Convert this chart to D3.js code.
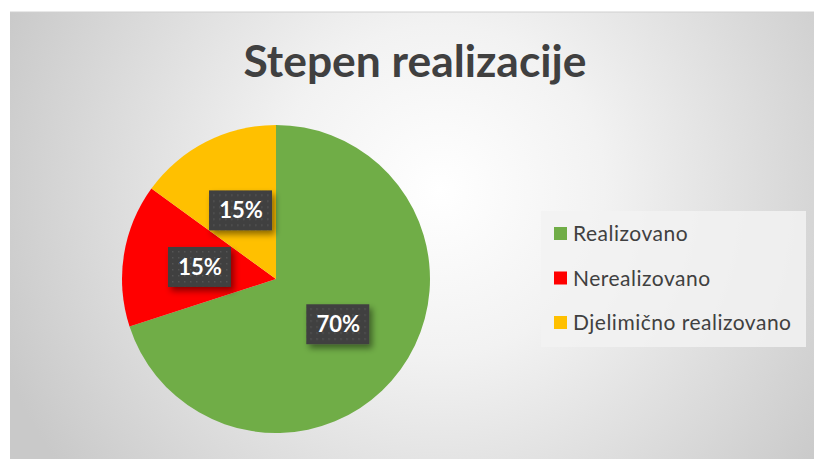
<!DOCTYPE html>
<html>
<head>
<meta charset="utf-8">
<script src="https://cdn.jsdelivr.net/npm/d3@7"></script>
<style>
  body { margin: 0; background: #fff; }
  svg { display: block; }
</style>
</head>
<body>
<div id="chart"></div>
<script>
// data
const categories = ["Realizovano", "Nerealizovano", "Djelimično realizovano"];
const values = [70, 15, 15];
const labels = ["70%", "15%", "15%"];
const colors = ["#70ad47", "#ff0000", "#ffc000"];

const W = 814, H = 459;

const svg = d3.select("#chart")
  .append("svg")
  .attr("width", W)
  .attr("height", H);

const defs = svg.append("defs");

// background gradient
const grad = defs.append("radialGradient")
  .attr("id", "bg")
  .attr("gradientUnits", "userSpaceOnUse")
  .attr("cx", 440).attr("cy", 190).attr("r", 470);
grad.append("stop").attr("offset", "0%").attr("stop-color", "#ffffff");
grad.append("stop").attr("offset", "35%").attr("stop-color", "#f2f2f2");
grad.append("stop").attr("offset", "100%").attr("stop-color", "#c9c9c9");

// drop shadow for data labels
const f = defs.append("filter").attr("id", "shadow")
  .attr("x", "-30%").attr("y", "-30%").attr("width", "170%").attr("height", "170%");
f.append("feDropShadow")
  .attr("dx", 3).attr("dy", 4)
  .attr("stdDeviation", 3)
  .attr("flood-color", "#000")
  .attr("flood-opacity", 0.45);

// dotted texture for labels
const pat = defs.append("pattern").attr("id", "dots")
  .attr("patternUnits", "userSpaceOnUse")
  .attr("width", 6).attr("height", 6);
pat.append("rect").attr("width", 6).attr("height", 6).attr("fill", "#404040");
pat.append("rect").attr("x", 2).attr("y", 2).attr("width", 1.5).attr("height", 1.5).attr("fill", "#555");

// chart area
svg.append("rect")
  .attr("x", 10).attr("y", 12)
  .attr("width", W - 10).attr("height", H - 12)
  .attr("fill", "url(#bg)");
svg.append("line")
  .attr("x1", 10).attr("x2", W)
  .attr("y1", 12).attr("y2", 12)
  .attr("stroke", "#d0d0d0");

// title
svg.append("text")
  .attr("x", 415)
  .attr("y", 77)
  .attr("text-anchor", "middle")
  .attr("font-family", "Lato, 'Open Sans', sans-serif")
  .attr("font-weight", "bold")
  .attr("font-size", 43)
  .attr("textLength", 343)
  .attr("lengthAdjust", "spacingAndGlyphs")
  .attr("fill", "#404040")
  .text("Stepen realizacije");

// pie
const cx = 276, cy = 279, r = 154;
const pie = d3.pie().sort(null).value(d => d);
const arcs = pie(values);
const arc = d3.arc().innerRadius(0).outerRadius(r);

const g = svg.append("g").attr("transform", `translate(${cx},${cy})`);

g.selectAll("path")
  .data(arcs)
  .enter()
  .append("path")
  .attr("d", arc)
  .attr("fill", (d, i) => colors[i]);

// data labels
const lab = g.selectAll(".lab")
  .data(arcs)
  .enter()
  .append("g")
  .attr("class", "lab")
  .attr("transform", d => `translate(${arc.centroid(d)})`);

lab.append("rect")
  .attr("x", -32).attr("y", -20)
  .attr("width", 63).attr("height", 40)
  .attr("fill", "url(#dots)")
  .attr("filter", "url(#shadow)");

lab.append("text")
  .attr("text-anchor", "middle")
  .attr("dy", "0.36em")
  .attr("font-family", "Lato, 'Open Sans', sans-serif")
  .attr("font-weight", "bold")
  .attr("font-size", 22)
  .attr("fill", "#fff")
  .text((d, i) => labels[i]);

// legend
const legend = svg.append("g");
legend.append("rect")
  .attr("x", 541).attr("y", 211)
  .attr("width", 265).attr("height", 136)
  .attr("fill", "#f2f2f2")
  .attr("fill-opacity", 0.85);

const rowY = d3.scalePoint().domain(categories).range([234, 323]);

const item = legend.selectAll(".item")
  .data(categories)
  .enter()
  .append("g")
  .attr("transform", d => `translate(554,${rowY(d)})`);

item.append("rect")
  .attr("x", 0).attr("y", -7)
  .attr("width", 13).attr("height", 13)
  .attr("fill", (d, i) => colors[i]);

item.append("text")
  .attr("x", 19)
  .attr("dy", "0.35em")
  .attr("font-family", "Lato, 'Open Sans', sans-serif")
  .attr("font-size", 21)
  .attr("letter-spacing", 0.5)
  .attr("fill", "#404040")
  .text(d => d);
</script>
</body>
</html>
